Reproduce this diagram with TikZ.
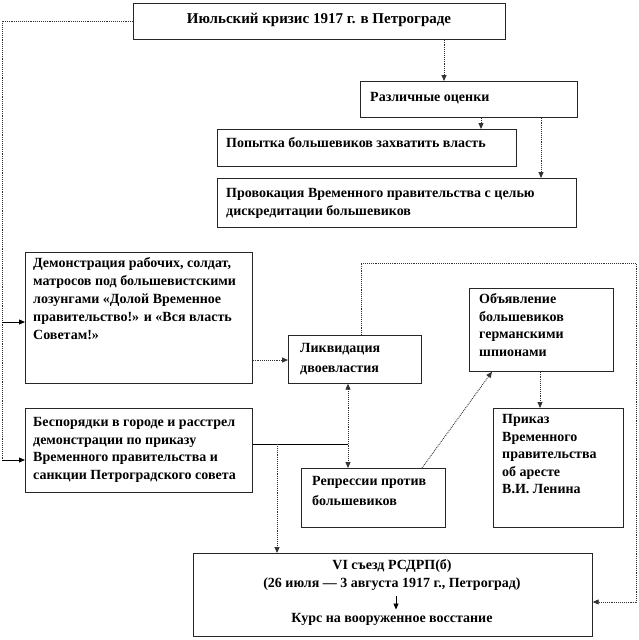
\documentclass[tikz,border=0pt]{standalone}
\usepackage{fontspec}
\setmainfont{Liberation Serif}
\usetikzlibrary{arrows.meta}
\begin{document}
\begin{tikzpicture}[x=1pt,y=-1pt,
  box/.style={draw=black!85, line width=0.7pt, fill=white, inner sep=0pt, anchor=north west},
  txt/.style={inner sep=0pt, anchor=north west, align=left, font=\fontsize{14}{17.5}\selectfont\bfseries},
  wide/.style={font=\fontsize{14}{20}\selectfont\bfseries},
  dline/.style={draw=black!80, line width=0.9pt, densely dotted},
  sline/.style={draw=black, line width=0.8pt},
  arr/.style={-{Triangle[length=6pt,width=5pt]}},
  darr/.style={{Triangle[length=6pt,width=5pt]}-{Triangle[length=6pt,width=5pt]}}
]
\useasboundingbox (0,0) rectangle (638,640);
\fill[white] (0,0) rectangle (638,640);

% boxes
\node[box, minimum width=372pt, minimum height=36pt] (title) at (133,3) {};
\node[box, minimum width=217pt, minimum height=36pt] (razl) at (360,81) {};
\node[box, minimum width=299pt, minimum height=37pt] (popyt) at (217,129) {};
\node[box, minimum width=359pt, minimum height=49pt] (provok) at (217,178) {};
\node[box, minimum width=227pt, minimum height=131pt] (demo) at (25,252) {};
\node[box, minimum width=227pt, minimum height=84pt] (besp) at (25,408) {};
\node[box, minimum width=133pt, minimum height=48pt] (likv) at (288,335) {};
\node[box, minimum width=144pt, minimum height=83pt] (obyav) at (469,288) {};
\node[box, minimum width=130pt, minimum height=119pt] (prikaz) at (493,408) {};
\node[box, minimum width=144pt, minimum height=59pt] (repr) at (301,468) {};
\node[box, minimum width=399pt, minimum height=83pt] (vi) at (193,553) {};

% texts
\node[txt, anchor=center, font=\fontsize{15}{18}\selectfont\bfseries] (titlet) at (319,20) {Июльский кризис 1917 г. в Петрограде};
\node[txt] (razlt) at (370,89) {\strut Различные оценки};
\node[txt] (popytt) at (226,135.5) {\strut Попытка большевиков  захватить власть};
\node[txt] (provokt) at (226,185.5) {\strut Провокация Временного правительства с целью\\дискредитации большевиков};
\node[txt, font=\fontsize{14}{18}\selectfont\bfseries] (demot) at (33,254.5) {\strut Демонстрация рабочих, солдат,\\матросов под большевистскими\\лозунгами «Долой Временное\\правительство!» и «Вся власть\\Советам!»};
\node[txt] (bespt) at (33,414.5) {\strut Беспорядки в городе и расстрел\\демонстрации по приказу\\Временного правительства и\\санкции Петроградского совета};
\node[txt, wide] (likvt) at (300,338.5) {\strut Ликвидация\\двоевластия};
\node[txt] (obyavt) at (479,291.5) {\strut Объявление\\большевиков\\германскими\\шпионами};
\node[txt] (prikazt) at (502,411.5) {\strut Приказ\\Временного\\правительства\\об аресте\\В.И. Ленина};
\node[txt, wide] (reprt) at (312,471.5) {\strut Репрессии против\\большевиков};
\node[txt, anchor=north, align=center, font=\fontsize{14}{18}\selectfont\bfseries] (vit) at (392,556.5) {\strut VI съезд РСДРП(б)\\(26 июля — 3 августа 1917 г., Петроград)};
\node[txt, anchor=north, align=center] (vik) at (392,610.5) {\strut Курс на вооруженное восстание};

% helper coordinates
\coordinate (xa) at (444,0);
\coordinate (xb) at (481,0);
\coordinate (xc) at (541,0);
\coordinate (cd) at (2,322);
\coordinate (cb) at (2,460);
\coordinate (cl) at (270,360);
\coordinate (t1) at (361,263);
\coordinate (t2) at (636,602);
\coordinate (x3) at (348,0);
\coordinate (j) at (348,444);
\coordinate (k) at (277,444);
\coordinate (d1) at (422,0);
\coordinate (d2) at (492,0);
\coordinate (x5) at (540,0);
\coordinate (x6) at (396,0);

% connectors
\draw[dline,arr] (title.south -| xa) -- (razl.north -| xa);
\draw[dline,arr] (razl.south -| xb) -- (popyt.north -| xb);
\draw[dline,arr] (razl.south -| xc) -- (provok.north -| xc);
\draw[dline] (title.west) -| (cb);
\draw[sline,arr] (cd) -- (cd -| demo.west);
\draw[sline,arr] (cb) -- (cb -| besp.west);
\draw[dline,arr] (cl -| demo.east) -- (cl -| likv.west);
\draw[dline,arr] (t1 |- likv.north) -- (t1) -| (t2) -- (t2 -| vi.east);
\draw[dline,darr] (likv.south -| x3) -- (repr.north -| x3);
\draw[sline] (j -| besp.east) -- (j);
\draw[dline,arr] (k) -- (k |- vi.north);
\draw[dline,arr] (d1 |- repr.north) -- (d2 |- obyav.south);
\draw[dline,arr] (obyav.south -| x5) -- (prikaz.north -| x5);
\draw[sline,arr,shorten <=5pt,shorten >=1pt] (vit.south -| x6) -- (vik.north -| x6);
\end{tikzpicture}
\end{document}
